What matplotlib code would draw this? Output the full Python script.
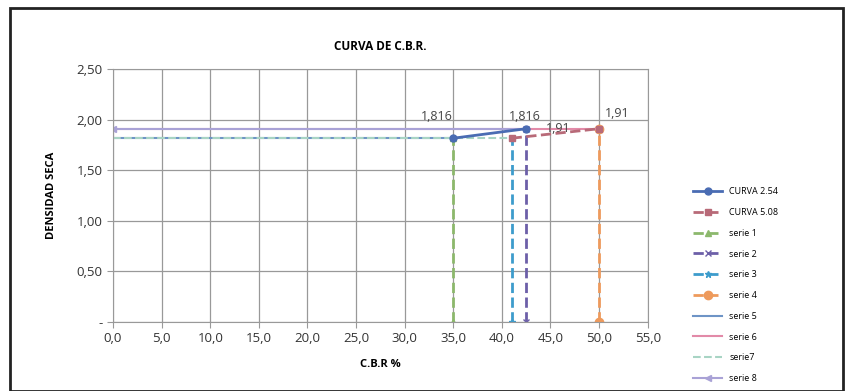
import matplotlib.pyplot as plt
from matplotlib.patches import Rectangle

# data
cbr_254 = [35.0, 42.5]
dens_254 = [1.816, 1.91]
cbr_508 = [41.0, 50.0]
dens_508 = [1.816, 1.91]

labels_254 = ['1,816', '1,91']
labels_508 = ['1,816', '1,91']

# vertical helper lines (x, top)
serie1 = ([35.0, 35.0], [0.0, 1.816])
serie2 = ([42.5, 42.5], [0.0, 1.91])
serie3 = ([41.0, 41.0], [0.0, 1.816])
serie4 = ([50.0, 50.0], [0.0, 1.91])
# horizontal helper lines
serie5 = ([0.0, 35.0], [1.816, 1.816])
serie6 = ([0.0, 50.0], [1.91, 1.91])
serie7 = ([0.0, 41.0], [1.816, 1.816])
serie8 = ([0.0, 42.5], [1.91, 1.91])

xticks = [0, 5, 10, 15, 20, 25, 30, 35, 40, 45, 50, 55]
yticks = [0, 0.5, 1.0, 1.5, 2.0, 2.5]
ytick_labels = ['-', '0,50', '1,00', '1,50', '2,00', '2,50']

plt.rcParams['font.family'] = ['Open Sans', 'DejaVu Sans']

fig = plt.figure(figsize=(8.46, 3.91), dpi=100)
ax = fig.add_axes([0.1336, 0.1765, 0.632, 0.647])

h = []
h += ax.plot(cbr_254, dens_254, '-o', color='#4a6cb3', lw=2, ms=5, label='CURVA 2.54', zorder=5)
h += ax.plot(cbr_508, dens_508, '--s', color='#b86a78', lw=2, ms=5, label='CURVA 5.08', zorder=5)
h += ax.plot(*serie1, '--^', color='#8cb86c', lw=2, ms=5, label='serie 1')
h += ax.plot(*serie2, '--', color='#6c5fa8', lw=2, marker='x', ms=4, label='serie 2')
h += ax.plot(*serie3, '--', color='#3d9ccc', lw=2, marker='*', ms=5, label='serie 3')
h += ax.plot(*serie4, '--o', color='#ee9a5c', lw=2, ms=6, label='serie 4')
h += ax.plot(*serie5, '-', color='#6e94c6', lw=1.5, label='serie 5')
h += ax.plot(*serie6, '-', color='#e28aa8', lw=1.5, label='serie 6')
h += ax.plot(*serie7, '--', color='#a8d4c4', lw=1.5, label='serie7')
h += ax.plot(*serie8, '-', color='#a9a2d6', lw=1.5, marker='<', markevery=[0], ms=5, label='serie 8')

lab = dict(textcoords='offset points', fontsize=9, color='#444444', va='center')
# CURVA 2.54: first label above-left, second to the right
ax.annotate(labels_254[0], (cbr_254[0], dens_254[0]), xytext=(0, 16), ha='right', **lab)
ax.annotate(labels_254[1], (cbr_254[1], dens_254[1]), xytext=(14, 0), ha='left', **lab)
# CURVA 5.08: labels above-right
ax.annotate(labels_508[0], (cbr_508[0], dens_508[0]), xytext=(-2, 16), ha='left', **lab)
ax.annotate(labels_508[1], (cbr_508[1], dens_508[1]), xytext=(4, 11), ha='left', **lab)

ax.set_xlim(0, 55)
ax.set_ylim(0, 2.5)
ax.set_xticks(xticks)
ax.set_xticklabels(['{:.1f}'.format(v).replace('.', ',') for v in xticks])
ax.set_yticks(yticks)
ax.set_yticklabels(ytick_labels)
ax.tick_params(labelsize=9.5, colors='#333333', length=4, color='#999999')
ax.grid(True, color='#999999', lw=0.9)
for s in ax.spines.values():
    s.set_color('#999999')

ax.set_title('CURVA DE C.B.R.', fontsize=8.5, fontweight='bold', pad=14)
ax.set_xlabel('C.B.R %', fontsize=8, fontweight='bold', labelpad=10)
ax.set_ylabel('DENSIDAD SECA', fontsize=8, fontweight='bold', labelpad=14)

fig.legend(handles=h, loc='upper left', bbox_to_anchor=(0.815, 0.53), frameon=False,
           fontsize=6.5, handlelength=3.2, labelspacing=1.3, borderaxespad=0)

fig.patches.append(Rectangle((0.012, 0.0), 0.985, 0.98, transform=fig.transFigure,
                             fill=False, ec='#222222', lw=2))

fig.savefig('out.png', dpi=100)
